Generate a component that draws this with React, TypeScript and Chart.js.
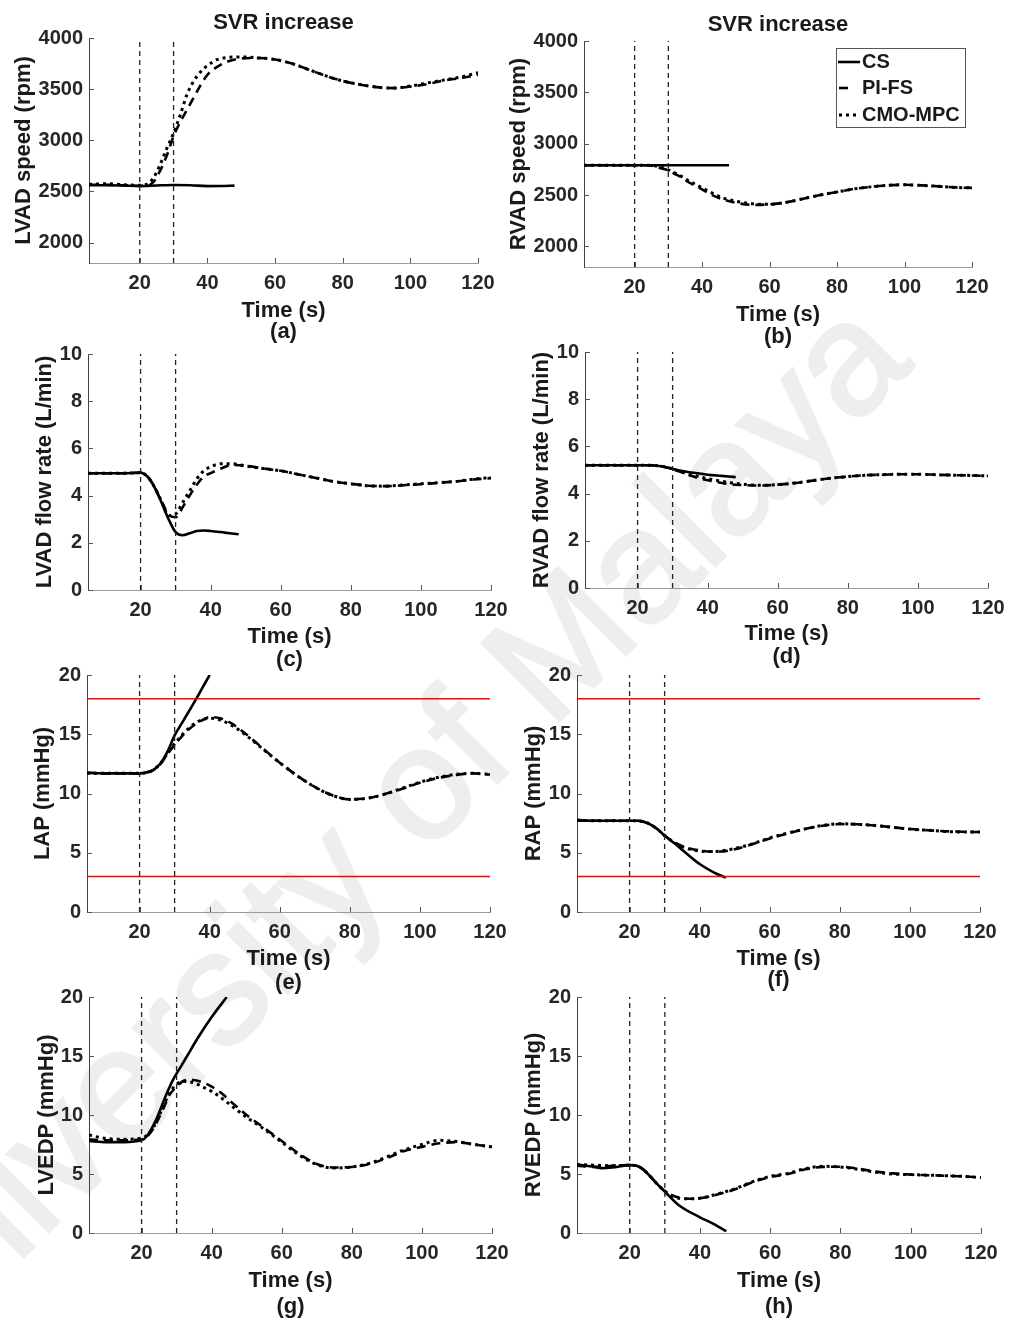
import React, { useEffect, useRef } from "react";
import { Chart, registerables } from "chart.js";

Chart.register(...registerables);

const FONT = '"Liberation Sans", Arial, Helvetica, sans-serif';

// ---------- tick labels ----------
const xTicks = [20, 40, 60, 80, 100, 120];
const speedTicks = [2000, 2500, 3000, 3500, 4000];
const flowTicks = [0, 2, 4, 6, 8, 10];
const pressTicks = [0, 5, 10, 15, 20];
const eventTimes = [20, 30];
const limitLines = [18, 3];

// ---------- time base of the controlled runs (s) ----------
const tCtrl = [5, 10, 15, 20, 22, 24, 26, 28, 30, 32, 34, 36, 38, 40, 43, 46, 50, 55, 60, 65, 70, 75, 80, 85, 90, 95, 100, 105, 110, 115, 120];

// (a) LVAD speed (rpm)
const lvadSpeedCsT = [5, 10, 15, 20, 25, 30, 35, 40, 44, 48];
const lvadSpeedCs = [2560, 2560, 2558, 2552, 2558, 2563, 2560, 2552, 2553, 2557];
const lvadSpeedPi = [2565, 2565, 2560, 2555, 2555, 2590, 2700, 2850, 3040, 3180, 3300, 3420, 3540, 3640, 3720, 3770, 3800, 3805, 3790, 3750, 3690, 3630, 3580, 3545, 3520, 3510, 3525, 3550, 3585, 3610, 3640];
const lvadSpeedMpc = [2570, 2575, 2565, 2560, 2570, 2630, 2760, 2920, 3070, 3250, 3450, 3580, 3670, 3730, 3790, 3810, 3815, 3805, 3790, 3750, 3690, 3630, 3580, 3545, 3520, 3510, 3530, 3560, 3590, 3620, 3660];

// (b) RVAD speed (rpm)
const rvadSpeedCsT = [5, 48];
const rvadSpeedCs = [2790, 2790];
const rvadSpeedPi = [2790, 2790, 2790, 2790, 2790, 2790, 2780, 2760, 2740, 2705, 2670, 2625, 2590, 2555, 2500, 2460, 2425, 2405, 2410, 2430, 2465, 2500, 2530, 2560, 2580, 2595, 2600, 2595, 2585, 2575, 2570];
const rvadSpeedMpc = [2790, 2790, 2790, 2790, 2790, 2790, 2785, 2770, 2745, 2715, 2680, 2640, 2605, 2570, 2520, 2475, 2440, 2415, 2410, 2430, 2465, 2500, 2530, 2560, 2580, 2595, 2600, 2595, 2585, 2575, 2570];

// (c) LVAD flow rate (L/min)
const lvadFlowCsT = [5, 10, 15, 20, 22, 24, 26, 28, 30, 32, 34, 36, 38, 40, 44, 48];
const lvadFlowCs = [4.95, 4.95, 4.95, 4.97, 4.8, 4.35, 3.7, 3.0, 2.45, 2.32, 2.4, 2.5, 2.52, 2.5, 2.43, 2.36];
const lvadFlowPi = [4.95, 4.95, 4.95, 4.97, 4.8, 4.35, 3.75, 3.2, 3.08, 3.5, 4.0, 4.45, 4.8, 4.95, 5.15, 5.3, 5.27, 5.15, 5.05, 4.9, 4.75, 4.6, 4.5, 4.42, 4.4, 4.44, 4.48, 4.54, 4.6, 4.68, 4.74];
const lvadFlowMpc = [4.95, 4.95, 4.95, 4.97, 4.8, 4.35, 3.75, 3.15, 3.22, 3.7, 4.2, 4.7, 5.05, 5.22, 5.35, 5.35, 5.25, 5.15, 5.05, 4.9, 4.75, 4.6, 4.5, 4.42, 4.4, 4.45, 4.5, 4.55, 4.6, 4.7, 4.76];

// (d) RVAD flow rate (L/min)
const rvadFlowCsT = [5, 20, 24, 28, 32, 36, 40, 44, 48];
const rvadFlowCs = [5.2, 5.2, 5.2, 5.12, 4.98, 4.88, 4.8, 4.75, 4.7];
const rvadFlowPi = [5.2, 5.2, 5.2, 5.2, 5.2, 5.2, 5.18, 5.12, 5.05, 4.93, 4.82, 4.72, 4.63, 4.57, 4.48, 4.4, 4.36, 4.34, 4.38, 4.45, 4.55, 4.65, 4.72, 4.78, 4.8, 4.82, 4.82, 4.8, 4.78, 4.77, 4.75];
const rvadFlowMpc = [5.2, 5.2, 5.2, 5.2, 5.2, 5.2, 5.18, 5.12, 5.05, 4.95, 4.85, 4.78, 4.7, 4.63, 4.55, 4.47, 4.4, 4.35, 4.38, 4.45, 4.55, 4.65, 4.72, 4.78, 4.8, 4.82, 4.82, 4.8, 4.78, 4.77, 4.75];

// (e) LAP (mmHg)
const lapCsT = [5, 10, 15, 20, 22, 24, 26, 28, 30, 32, 34, 36, 38, 40];
const lapCs = [11.75, 11.7, 11.7, 11.7, 11.8, 12.0, 12.55, 13.55, 14.9, 15.9, 16.9, 17.9, 18.95, 20.0];
const lapPi = [11.75, 11.7, 11.7, 11.7, 11.75, 12.0, 12.5, 13.35, 14.1, 14.8, 15.4, 15.85, 16.2, 16.45, 16.35, 15.95, 15.1, 13.85, 12.6, 11.5, 10.55, 9.85, 9.5, 9.6, 9.95, 10.4, 10.9, 11.3, 11.55, 11.7, 11.6];
const lapMpc = [11.7, 11.7, 11.7, 11.7, 11.75, 12.0, 12.55, 13.4, 14.2, 14.9, 15.5, 15.95, 16.25, 16.35, 16.2, 15.8, 15.0, 13.8, 12.6, 11.5, 10.55, 9.85, 9.5, 9.6, 9.95, 10.45, 10.95, 11.35, 11.6, 11.7, 11.6];

// (f) RAP (mmHg)
const rapCsT = [5, 10, 15, 20, 22, 24, 26, 28, 30, 33, 36, 40, 44, 47.5];
const rapCs = [7.75, 7.7, 7.7, 7.7, 7.7, 7.62, 7.38, 6.98, 6.45, 5.75, 5.0, 4.05, 3.35, 2.9];
const rapPi = [7.7, 7.7, 7.7, 7.7, 7.7, 7.62, 7.38, 6.98, 6.45, 6.02, 5.7, 5.45, 5.3, 5.2, 5.1, 5.1, 5.3, 5.72, 6.2, 6.62, 7.0, 7.28, 7.42, 7.4, 7.3, 7.15, 7.0, 6.9, 6.82, 6.77, 6.75];
const rapMpc = [7.75, 7.7, 7.7, 7.7, 7.7, 7.62, 7.38, 6.98, 6.45, 6.0, 5.65, 5.4, 5.25, 5.15, 5.1, 5.15, 5.35, 5.75, 6.25, 6.65, 7.0, 7.3, 7.45, 7.4, 7.3, 7.15, 7.0, 6.9, 6.8, 6.75, 6.75];

// (g) LVEDP (mmHg)
const lvedpCsT = [5, 10, 15, 20, 21.5, 24, 27, 29, 31, 33, 36, 40, 44.3];
const lvedpCs = [7.8, 7.7, 7.7, 7.85, 8.2, 9.5, 11.7, 13.0, 14.0, 15.0, 16.5, 18.3, 20.0];
const lvedpPi = [7.95, 7.85, 7.85, 7.95, 8.3, 9.2, 10.4, 11.7, 12.4, 12.9, 13.0, 12.9, 12.7, 12.4, 11.8, 11.0, 10.0, 8.9, 7.8, 6.7, 5.85, 5.55, 5.6, 5.85, 6.35, 6.95, 7.3, 7.6, 7.7, 7.5, 7.3];
const lvedpMpc = [8.3, 8.0, 7.95, 8.05, 8.4, 9.3, 10.6, 11.9, 12.6, 12.85, 12.8, 12.6, 12.3, 12.0, 11.4, 10.7, 9.8, 8.8, 7.7, 6.6, 5.8, 5.5, 5.6, 5.9, 6.45, 7.05, 7.5, 7.85, 7.75, 7.5, 7.3];

// (h) RVEDP (mmHg)
const rvedpCsT = [5, 10, 12, 15, 20, 22, 24, 26, 28, 30, 34, 40, 44, 47.5];
const rvedpCs = [5.8, 5.6, 5.5, 5.55, 5.75, 5.7, 5.35, 4.75, 4.1, 3.5, 2.35, 1.33, 0.75, 0.15];
const rvedpPi = [5.7, 5.6, 5.7, 5.75, 5.7, 5.35, 4.75, 4.1, 3.55, 3.2, 3.0, 2.92, 2.9, 2.95, 3.1, 3.35, 3.7, 4.3, 4.75, 5.0, 5.4, 5.6, 5.62, 5.45, 5.2, 5.05, 4.95, 4.9, 4.85, 4.8, 4.7];
const rvedpMpc = [5.8, 5.75, 5.7, 5.75, 5.7, 5.35, 4.75, 4.1, 3.55, 3.15, 2.95, 2.9, 2.9, 2.95, 3.15, 3.4, 3.75, 4.35, 4.8, 5.05, 5.45, 5.65, 5.6, 5.4, 5.15, 5.0, 4.95, 4.9, 4.85, 4.8, 4.7];

const legendLabels = ["CS", "PI-FS", "CMO-MPC"];

// ---------- styles ----------
const LINE_STYLES = [
  { dash: [] as number[], width: 2.6 },
  { dash: [9, 6], width: 2.6 },
  { dash: [3, 4], width: 3 },
];
const TICK_COLOR = "#262626";
const LABEL_COLOR = "#1a1a1a";

type PanelSpec = {
  L: number; T: number; R: number; B: number;
  yMin: number; yMax: number; yTicks: number[];
  yLabel: string; yLabOff: number;
  sub: string; timeOff: number; subOff: number;
  title?: string; titleOff?: number;
  legend?: boolean; limits?: boolean;
  cs: [number[], number[]]; pi: [number[], number[]]; mpc: [number[], number[]];
};

const zip = (t: number[], v: number[]) => v.map((y, i) => ({ x: t[i], y }));

function Panel({ spec }: { spec: PanelSpec }) {
  const ref = useRef<HTMLCanvasElement | null>(null);
  const cx = spec.L - 85;
  const cy = spec.T - 45;
  const cw = spec.R + 35 - cx;
  const ch = spec.B + 90 - cy;

  useEffect(() => {
    if (!ref.current) return;
    const series = [spec.cs, spec.pi, spec.mpc].map(([t, v], i) => ({
      label: legendLabels[i],
      data: zip(t, v),
      borderColor: "#000",
      borderWidth: LINE_STYLES[i].width,
      borderDash: LINE_STYLES[i].dash,
      borderCapStyle: "butt" as const,
      pointRadius: 0,
      fill: false,
      cubicInterpolationMode: "monotone" as const,
    }));
    const vlines = eventTimes.map((t) => ({
      label: "event",
      data: [{ x: t, y: spec.yMin }, { x: t, y: spec.yMax }],
      borderColor: "#222",
      borderWidth: 1.3,
      borderDash: [5, 4],
      pointRadius: 0,
      fill: false,
    }));
    const hlines = spec.limits
      ? limitLines.map((v) => ({
          label: "limit",
          data: [{ x: 5, y: v }, { x: 120, y: v }],
          borderColor: "#ff0000",
          borderWidth: 1.5,
          borderDash: [] as number[],
          pointRadius: 0,
          fill: false,
        }))
      : [];

    const decor = {
      id: "decor",
      afterDraw(chart: any) {
        const { ctx, chartArea: a, scales } = chart;
        const xs = scales.x, ys = scales.y;
        ctx.save();
        // inward tick marks
        ctx.setLineDash([]);
        ctx.lineWidth = 1;
        ctx.strokeStyle = "#555";
        for (const v of xTicks) {
          const px = Math.round(xs.getPixelForValue(v)) + 0.5;
          ctx.beginPath();
          ctx.moveTo(px, a.bottom);
          ctx.lineTo(px, a.bottom - 5);
          ctx.stroke();
        }
        for (const v of spec.yTicks) {
          const py = Math.round(ys.getPixelForValue(v)) + 0.5;
          ctx.beginPath();
          ctx.moveTo(a.left, py);
          ctx.lineTo(a.left + 5, py);
          ctx.stroke();
        }
        // texts
        ctx.fillStyle = LABEL_COLOR;
        ctx.font = `bold 22px ${FONT}`;
        ctx.textAlign = "center";
        ctx.textBaseline = "middle";
        const mx = (a.left + a.right) / 2;
        ctx.fillText("Time (s)", mx, a.bottom + spec.timeOff);
        ctx.fillText(spec.sub, mx, a.bottom + spec.subOff);
        if (spec.title) ctx.fillText(spec.title, mx, a.top + (spec.titleOff ?? -15));
        ctx.save();
        ctx.translate(a.left - spec.yLabOff, (a.top + a.bottom) / 2);
        ctx.rotate(-Math.PI / 2);
        ctx.fillText(spec.yLabel, 0, 0);
        ctx.restore();
        // legend
        if (spec.legend) {
          const bx = Math.round(a.right - 136), by = Math.round(a.top + 7), bw = 129, bh = 79;
          ctx.fillStyle = "#fff";
          ctx.fillRect(bx, by, bw, bh);
          ctx.strokeStyle = "#555";
          ctx.lineWidth = 1;
          ctx.strokeRect(bx + 0.5, by + 0.5, bw, bh);
          const rows = [
            { y: 14, x1: 2, x2: 24 },
            { y: 40, x1: 3, x2: 13 },
            { y: 67, x1: 3, x2: 24 },
          ];
          rows.forEach((r, i) => {
            ctx.strokeStyle = "#000";
            ctx.lineWidth = LINE_STYLES[i].width;
            ctx.setLineDash(LINE_STYLES[i].dash);
            ctx.beginPath();
            ctx.moveTo(bx + r.x1, by + r.y);
            ctx.lineTo(bx + r.x2, by + r.y);
            ctx.stroke();
            ctx.setLineDash([]);
            ctx.fillStyle = LABEL_COLOR;
            ctx.font = `bold 20px ${FONT}`;
            ctx.textAlign = "left";
            ctx.fillText(legendLabels[i], bx + 26, by + r.y);
          });
        }
        ctx.restore();
      },
    };

    const tickFont = { family: FONT, size: 20, weight: "bold" as const };
    const chart = new Chart(ref.current, {
      type: "line",
      data: { datasets: [...hlines, ...vlines, ...series] as any },
      options: {
        animation: false,
        responsive: false,
        devicePixelRatio: 1,
        events: [],
        layout: { padding: { left: 0, top: spec.T - cy, right: cw - (spec.R - cx), bottom: 0 } },
        plugins: { legend: { display: false }, tooltip: { enabled: false }, title: { display: false } },
        scales: {
          x: {
            type: "linear",
            min: 5,
            max: 120,
            grid: { display: false, drawTicks: false },
            border: { display: true, color: "#9a9a9a", width: 1 },
            ticks: { font: tickFont, color: TICK_COLOR, padding: 8, autoSkip: false, maxRotation: 0, callback: (v: any) => String(v) },
            afterBuildTicks: (s: any) => { s.ticks = xTicks.map((v) => ({ value: v })); },
            afterFit: (s: any) => { s.height = ch - (spec.B - cy); },
          },
          y: {
            type: "linear",
            min: spec.yMin,
            max: spec.yMax,
            grid: { display: false, drawTicks: false },
            border: { display: true, color: "#404040", width: 1 },
            ticks: { font: tickFont, color: TICK_COLOR, padding: 6, autoSkip: false, callback: (v: any) => String(v) },
            afterBuildTicks: (s: any) => { s.ticks = spec.yTicks.map((v) => ({ value: v })); },
            afterFit: (s: any) => { s.width = spec.L - cx; },
          },
        },
      },
      plugins: [decor],
    });
    return () => chart.destroy();
  }, []);

  return (
    <canvas
      ref={ref}
      width={cw}
      height={ch}
      style={{ position: "absolute", left: cx, top: cy, width: cw, height: ch }}
    />
  );
}

const panels: PanelSpec[] = [
  { L: 89, T: 38, R: 478, B: 263, yMin: 1800, yMax: 4000, yTicks: speedTicks, yLabel: "LVAD speed (rpm)", yLabOff: 65, sub: "(a)", timeOff: 48, subOff: 69, title: "SVR increase", titleOff: -15, cs: [lvadSpeedCsT, lvadSpeedCs], pi: [tCtrl, lvadSpeedPi], mpc: [tCtrl, lvadSpeedMpc] },
  { L: 584, T: 41, R: 972, B: 267, yMin: 1800, yMax: 4000, yTicks: speedTicks, yLabel: "RVAD speed (rpm)", yLabOff: 65, sub: "(b)", timeOff: 48, subOff: 70, title: "SVR increase", titleOff: -16, legend: true, cs: [rvadSpeedCsT, rvadSpeedCs], pi: [tCtrl, rvadSpeedPi], mpc: [tCtrl, rvadSpeedMpc] },
  { L: 88, T: 354, R: 491, B: 590, yMin: 0, yMax: 10, yTicks: flowTicks, yLabel: "LVAD flow rate (L/min)", yLabOff: 43, sub: "(c)", timeOff: 47, subOff: 70, cs: [lvadFlowCsT, lvadFlowCs], pi: [tCtrl, lvadFlowPi], mpc: [tCtrl, lvadFlowMpc] },
  { L: 585, T: 352, R: 988, B: 588, yMin: 0, yMax: 10, yTicks: flowTicks, yLabel: "RVAD flow rate (L/min)", yLabOff: 43, sub: "(d)", timeOff: 46, subOff: 69, cs: [rvadFlowCsT, rvadFlowCs], pi: [tCtrl, rvadFlowPi], mpc: [tCtrl, rvadFlowMpc] },
  { L: 87, T: 675, R: 490, B: 912, yMin: 0, yMax: 20, yTicks: pressTicks, yLabel: "LAP (mmHg)", yLabOff: 44, sub: "(e)", timeOff: 47, subOff: 71, limits: true, cs: [lapCsT, lapCs], pi: [tCtrl, lapPi], mpc: [tCtrl, lapMpc] },
  { L: 577, T: 675, R: 980, B: 912, yMin: 0, yMax: 20, yTicks: pressTicks, yLabel: "RAP (mmHg)", yLabOff: 43, sub: "(f)", timeOff: 47, subOff: 68, limits: true, cs: [rapCsT, rapCs], pi: [tCtrl, rapPi], mpc: [tCtrl, rapMpc] },
  { L: 89, T: 997, R: 492, B: 1233, yMin: 0, yMax: 20, yTicks: pressTicks, yLabel: "LVEDP (mmHg)", yLabOff: 42, sub: "(g)", timeOff: 48, subOff: 74, cs: [lvedpCsT, lvedpCs], pi: [tCtrl, lvedpPi], mpc: [tCtrl, lvedpMpc] },
  { L: 577, T: 997, R: 981, B: 1233, yMin: 0, yMax: 20, yTicks: pressTicks, yLabel: "RVEDP (mmHg)", yLabOff: 43, sub: "(h)", timeOff: 48, subOff: 74, cs: [rvedpCsT, rvedpCs], pi: [tCtrl, rvedpPi], mpc: [tCtrl, rvedpMpc] },
];

export default function App() {
  return (
    <div style={{ position: "absolute", left: 0, top: 0, width: 1012, height: 1325, overflow: "hidden", background: "#fff" }}>
      <div
        style={{
          position: "absolute",
          left: 367,
          top: 836,
          transform: "translate(-50%, -50%) rotate(-45deg)",
          fontFamily: FONT,
          fontSize: 160,
          lineHeight: 1,
          whiteSpace: "nowrap",
          color: "#eeeeee",
          WebkitTextStroke: "3px #eeeeee",
          pointerEvents: "none",
        }}
      >
        University of Malaya
      </div>
      {panels.map((p, i) => (
        <Panel key={i} spec={p} />
      ))}
    </div>
  );
}
